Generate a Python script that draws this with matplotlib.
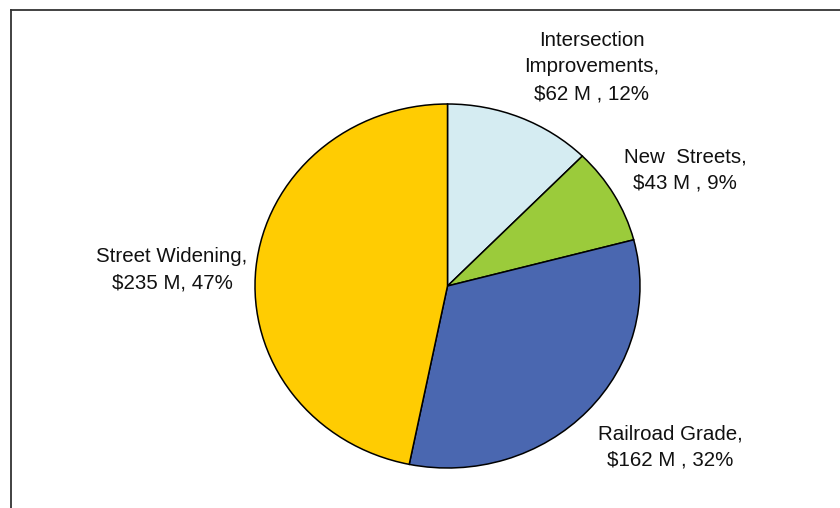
import matplotlib.pyplot as plt
from matplotlib.lines import Line2D

# Data
categories = ['Intersection Improvements', 'New Streets', 'Railroad Grade', 'Street Widening']
values = [62, 43, 162, 235]
label_texts = ['Intersection\nImprovements,\n$62 M , 12%',
               'New  Streets,\n$43 M , 9%',
               'Railroad Grade,\n$162 M , 32%',
               'Street Widening,\n$235 M, 47%']
colors = ['#D5ECF2', '#9BCB3B', '#4A67B0', '#FFCC02']

plt.rcParams['font.family'] = ['Liberation Sans', 'DejaVu Sans']

W, H = 840, 508
fig = plt.figure(figsize=(W / 100, H / 100), dpi=100)
ax = fig.add_axes([0, 0, 1, 1])

# pie is slightly squashed vertically, as in the original chart
rx, ry = 192.5, 182.0
sy = rx / ry
cx, cy = 447.5, 286.0

ax.pie(values, colors=colors, startangle=90, counterclock=False,
       radius=rx, center=(cx, (H - cy) * sy), frame=True,
       wedgeprops=dict(edgecolor='black', linewidth=1.1))
ax.set_xlim(0, W)
ax.set_ylim(0, H * sy)
ax.set_aspect('auto')
ax.axis('off')

# label positions (pixels)
label_pos = [(592, 67), (685, 170), (670, 447), (172, 270)]
for txt, (x, y) in zip(label_texts, label_pos):
    fig.text(x / W, 1 - y / H, txt, ha='center', va='center', fontsize=14.8,
             color='#111111', linespacing=1.5)

# chart frame (left and top edges)
fig.add_artist(Line2D([11 / W, 11 / W], [0, 1 - 9.5 / H], transform=fig.transFigure,
                      color='#333333', linewidth=1.3))
fig.add_artist(Line2D([11 / W, 1], [1 - 9.5 / H, 1 - 9.5 / H], transform=fig.transFigure,
                      color='#333333', linewidth=1.3))

fig.savefig('out.png', dpi=100)
